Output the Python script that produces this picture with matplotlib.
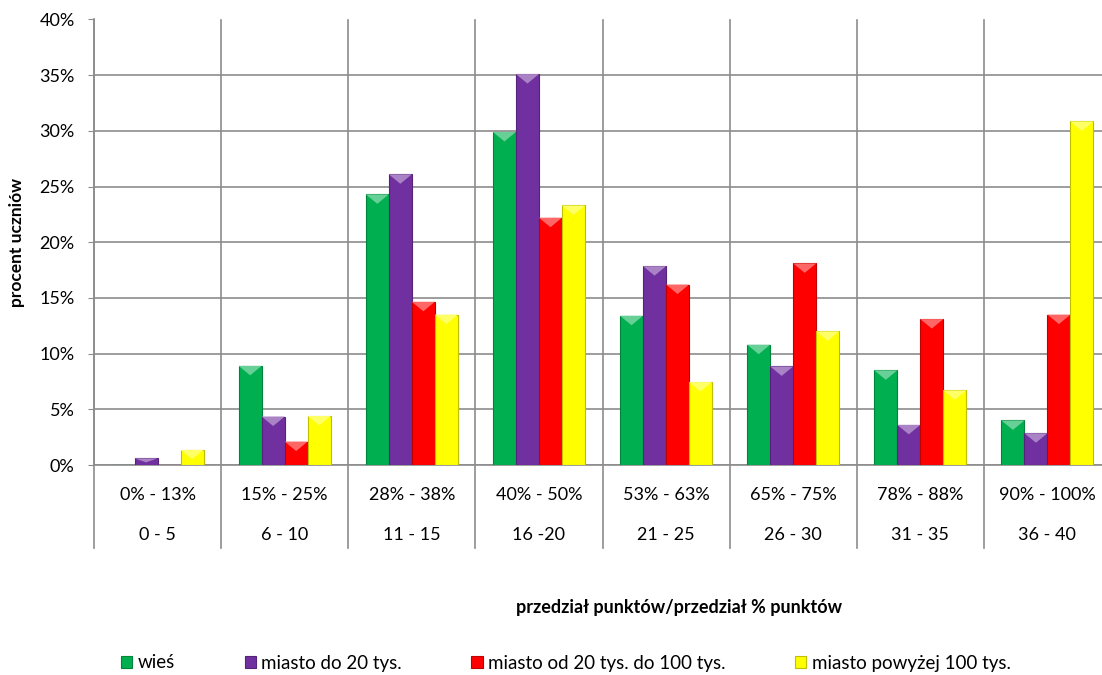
import matplotlib
matplotlib.use("Agg")
import matplotlib.pyplot as plt
import numpy as np
from matplotlib.patches import Polygon
from matplotlib.lines import Line2D
from matplotlib.ticker import PercentFormatter
from matplotlib import colors as mcolors

plt.rcParams['font.family'] = ['Lato', 'DejaVu Sans']

pct_labels = ["0% - 13%", "15% - 25%", "28% - 38%", "40% - 50%",
              "53% - 63%", "65% - 75%", "78% - 88%", "90% - 100%"]
pts_labels = ["0 - 5", "6 - 10", "11 - 15", "16 -20",
              "21 - 25", "26 - 30", "31 - 35", "36 - 40"]

series_names = ["wieś", "miasto do 20 tys.", "miasto od 20 tys. do 100 tys.",
                "miasto powyżej 100 tys."]
wies = [0.0, 8.9, 24.3, 29.9, 13.4, 10.8, 8.5, 4.0]
miasto_do20 = [0.6, 4.35, 26.1, 35.1, 17.85, 8.85, 3.6, 2.85]
miasto_20_100 = [0.0, 2.1, 14.65, 22.2, 16.2, 18.1, 13.1, 13.5]
miasto_pow100 = [1.35, 4.4, 13.5, 23.3, 7.45, 12.0, 6.7, 30.85]
series = [wies, miasto_do20, miasto_20_100, miasto_pow100]
colors = ["#00B050", "#7030A0", "#FF0000", "#FFFF00"]

W, H = 1102, 675
fig = plt.figure(figsize=(W / 100, H / 100), dpi=100)
left, right, bottom, top = 94 / W, 1111 / W, (H - 465) / H, (H - 19.5) / H
ax = fig.add_axes([left, bottom, right - left, top - bottom])

n = len(pct_labels)
x = np.arange(n)
bw = 0.181
grid_c = "#8C8C8C"
fs = 13

def shade(c, f):
    r, g, b = mcolors.to_rgb(c)
    if f > 0:
        return (r + (1 - r) * f, g + (1 - g) * f, b + (1 - b) * f)
    return (r * (1 + f), g * (1 + f), b * (1 + f))

for i, (vals, c, name) in enumerate(zip(series, colors, series_names)):
    offs = (i - 1.5) * bw
    bars = ax.bar(x + offs, vals, width=bw, color=c, edgecolor=shade(c, -0.25),
                  linewidth=0.8, label=name, zorder=3)
    for b in bars:
        h = b.get_height()
        if h <= 0:
            continue
        bx, bwid = b.get_x(), b.get_width()
        th = min(0.85, h * 0.6)
        tri = Polygon([[bx, h], [bx + bwid, h], [bx + bwid / 2, h - th]],
                      closed=True, facecolor=shade(c, 0.4), edgecolor='none',
                      zorder=4)
        ax.add_patch(tri)

ax.set_xlim(-0.5, n - 0.5)
ax.set_ylim(0, 40)
ax.set_yticks(np.arange(0, 41, 5))
ax.yaxis.set_major_formatter(PercentFormatter(decimals=0))
ax.tick_params(axis='y', labelsize=fs, length=4, color=grid_c, pad=10)
ax.set_xticks([])
ax.grid(axis='y', color=grid_c, linewidth=1.2, zorder=0)
for s in ['top', 'right']:
    ax.spines[s].set_visible(False)
ax.spines['left'].set_color(grid_c)
ax.spines['left'].set_linewidth(1.2)
ax.spines['bottom'].set_color(grid_c)
ax.spines['bottom'].set_linewidth(1.2)

# category separators (extend through label table)
trans = ax.get_xaxis_transform()
for b in np.arange(-0.5, n, 1.0):
    ax.add_line(Line2D([b, b], [-0.186, 1.0], transform=trans, color=grid_c,
                       linewidth=1.2, clip_on=False, zorder=1))

for xi, a, p in zip(x, pct_labels, pts_labels):
    ax.text(xi, -0.0673, a, transform=trans, ha='center', va='center', fontsize=fs)
    ax.text(xi, -0.157, p, transform=trans, ha='center', va='center', fontsize=fs)

ax.set_ylabel("procent uczniów", fontsize=12.5, fontweight='bold', labelpad=10)
fig.text(679 / W, 1 - 607 / H, "przedział punktów/przedział % punktów",
         ha='center', va='center', fontsize=13, fontweight='bold')

leg = fig.legend(loc='center', bbox_to_anchor=(566 / W, 1 - 663 / H), ncol=4,
                 frameon=False, fontsize=13.5, handlelength=0.6,
                 handleheight=0.6, handletextpad=0.3, columnspacing=3.7)

fig.savefig("out.png", dpi=100)
